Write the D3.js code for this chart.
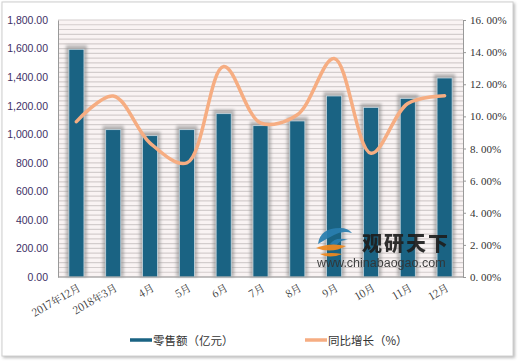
<!DOCTYPE html>
<html><head><meta charset="utf-8">
<script src="https://cdn.jsdelivr.net/npm/d3@7"></script>
<style>body{margin:0;background:#fff}svg{display:block}</style>
</head><body>
<svg id="c" width="520" height="363"></svg>
<script>
const categories = ["2017年12月","2018年3月","4月","5月","6月","7月","8月","9月","10月","11月","12月"];
const sales = [1595,1032,990,1032,1144,1060,1093,1268,1188,1251,1394];
const growth = [9.67,11.27,8.34,7.1,13.1,9.6,10.1,13.6,7.7,10.8,11.29];
const leftTicks = [0,200,400,600,800,1000,1200,1400,1600,1800];
const rightTicks = [0,2,4,6,8,10,12,14,16];
const legendLabels = ["零售额（亿元）","同比增长（%）"];

const svg = d3.select("#c");
const defs = svg.append("defs");
const blur = defs.append("filter").attr("id","blur").attr("x","-50%").attr("y","-50%").attr("width","200%").attr("height","200%");
blur.append("feGaussianBlur").attr("stdDeviation",1.6);
const fblur = defs.append("filter").attr("id","fblur").attr("x","-10%").attr("y","-10%").attr("width","120%").attr("height","120%");
fblur.append("feGaussianBlur").attr("stdDeviation",1.5);

// outer frame
svg.append("rect").attr("x",3).attr("y",3).attr("width",512).attr("height",355).attr("fill","#bbb").attr("filter","url(#fblur)");
svg.append("rect").attr("x",2).attr("y",2).attr("width",511).attr("height",354).attr("fill","#fff").attr("stroke","#d0d0d0").attr("stroke-width",1);

const m = {l:58, r:463, t:20, b:277};
const x = d3.scaleBand().domain(categories).range([m.l,m.r]).paddingInner(0.59).paddingOuter(0.295);
const y = d3.scaleLinear().domain([0,1800]).range([m.b,m.t]);
const y2 = d3.scaleLinear().domain([0,16]).range([m.b,m.t]);

// plot background
svg.append("rect").attr("x",m.l).attr("y",m.t).attr("width",m.r-m.l).attr("height",m.b-m.t).attr("fill","#f9f3f3");
const minor = d3.range(0,55).map(i=>i*1800/54);
svg.append("g").selectAll("line").data(minor).join("line")
  .attr("x1",m.l).attr("x2",m.r).attr("y1",d=>y(d)).attr("y2",d=>y(d))
  .attr("stroke","#d3cdcd").attr("stroke-width",1.2);

// bar shadows
svg.append("g").selectAll("rect").data(sales).join("rect")
  .attr("x",(d,i)=>x(categories[i])-3).attr("width",x.bandwidth()+6)
  .attr("y",d=>y(d)-4).attr("height",d=>m.b-y(d)+4)
  .attr("fill","#8a8a8a").attr("opacity",0.6).attr("filter","url(#blur)");
// bars
svg.append("g").selectAll("rect").data(sales).join("rect")
  .attr("x",(d,i)=>x(categories[i])).attr("width",x.bandwidth())
  .attr("y",d=>y(d)).attr("height",d=>m.b-y(d))
  .attr("fill","#1a6383").attr("stroke","#c8d8e0").attr("stroke-width",0.8);

// axes
const gl = svg.append("g").attr("transform",`translate(${m.l},0)`)
  .call(d3.axisLeft(y).tickValues(leftTicks).tickSize(0).tickPadding(10).tickFormat(d3.format(",.2f")));
gl.select(".domain").attr("stroke","#999");
gl.selectAll("text").attr("font-family","Liberation Sans, Arial, sans-serif").attr("font-size",10.5).attr("fill","#3d2f66");

const gr = svg.append("g").attr("transform",`translate(${m.r},0)`)
  .call(d3.axisRight(y2).tickValues(rightTicks).tickSize(3).tickPadding(4).tickFormat(d=>d3.format(".2f")(d).replace(".",".\u00a0")+"%"));
gr.select(".domain").attr("stroke","#999");
gr.selectAll(".tick line").attr("stroke","#999");
gr.selectAll("text").attr("font-family","Liberation Serif, DejaVu Serif, serif").attr("font-size",11).attr("fill","#333");

// bottom axis line
svg.append("line").attr("x1",m.l).attr("x2",m.r).attr("y1",m.b).attr("y2",m.b).attr("stroke","#999");

// x labels rotated
svg.append("g").selectAll("text").data(categories).join("text")
  .attr("transform",d=>`translate(${x(d)+x.bandwidth()/2+5},${m.b+13}) rotate(-30)`)
  .attr("text-anchor","end").attr("font-family","Noto Serif CJK SC, Liberation Serif, serif").attr("font-size",10.5).attr("fill","#333")
  .text(d=>d);

// growth line
const line = d3.line().x((d,i)=>x(categories[i])+x.bandwidth()/2).y(d=>y2(d)).curve(d3.curveCatmullRom.alpha(0.5));
svg.append("path").datum(growth).attr("d",line).attr("fill","none").attr("stroke","#f6ad82").attr("stroke-width",3.5).attr("stroke-linecap","round");

// watermark
const wm = svg.append("g").attr("opacity",0.92);
wm.append("path").attr("d","M318,244 q2,-16 22,-16 q8,0 12,5 q-10,-3 -18,2 q-8,4 -16,9 z").attr("fill","#2a7fb0");
wm.append("path").attr("d","M330,244 q6,-8 18,-4 q-8,-1 -12,6 z").attr("fill","#2a7fb0");
wm.append("path").attr("d","M316,248 q14,-6 30,-2 q-14,8 -30,2 z").attr("fill","#f28a1e");
wm.append("path").attr("d","M320,254 q12,-2 22,0 q-12,5 -22,0 z").attr("fill","#f28a1e");
wm.append("text").attr("x",362).attr("y",251).attr("font-family","Noto Sans CJK SC, sans-serif").attr("font-weight",900).attr("font-size",20).attr("fill","#1e1e1e").attr("letter-spacing",2).text("观研天下");
wm.append("text").attr("x",317).attr("y",267).attr("font-family","Liberation Sans, Arial, sans-serif").attr("font-size",12.5).attr("fill","#333").text("www.chinabaogao.com");

// legend
const leg = [{x:130,c:"#1a6383",t:legendLabels[0]},{x:305,c:"#f6ad82",t:legendLabels[1]}];
const lg = svg.append("g").selectAll("g").data(leg).join("g");
lg.append("line").attr("x1",d=>d.x).attr("x2",d=>d.x+22).attr("y1",340).attr("y2",340).attr("stroke",d=>d.c).attr("stroke-width",3.5);
lg.append("text").attr("x",d=>d.x+23).attr("y",344.5).attr("font-family","Noto Sans CJK SC, sans-serif").attr("font-size",11.5).attr("fill","#333").text(d=>d.t);
</script>
</body></html>
